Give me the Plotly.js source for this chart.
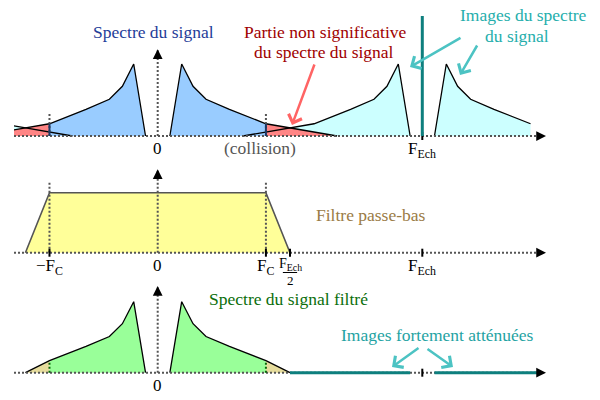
<!DOCTYPE html>
<html><head><meta charset="utf-8">
<script src="https://cdn.plot.ly/plotly-3.0.1.min.js"></script>
<style>body{margin:0;background:#fff}#chart{width:600px;height:400px}</style>
</head><body><div id="chart"></div>
<script>
// ---- DATA (frequencies in units of F_Ech) ----
const FECH = 1;
const FC = 0.409;
const FHALF = 0.5;
// one-sided spectrum of the signal (positive frequencies), amplitude relative to peak
const specF = [0.046, 0.0907, 0.1335, 0.1826, 0.271, 0.409, 0.678];
const specA = [0, 1, 0.69, 0.51, 0.37, 0.17, 0];
// low-pass filter response
const filtF = [-0.5, -0.409, 0.409, 0.5];
const filtA = [0, 1, 1, 0];
// filtered spectrum between Fc and Fech/2
const tailF = [0.409, 0.5];
const tailA = [0.17, 0];
// strongly attenuated images (near zero amplitude)
const atten1F = [0.5, 0.954];
const atten2F = [1.046, 1.44];
const attenA = [0, 0];
// tick labels
const topTickF = [0, 1];
const topTickLbl = ['0', 'F<sub>Ech</sub>'];
const midTickF = [-0.409, 0, 0.409, 1];
const midTickLbl = ['\u2212F<sub>C</sub>', '0', 'F<sub>C</sub>', 'F<sub>Ech</sub>'];
const botTickF = [0];
const botTickLbl = ['0'];

// ---- helpers ----
const iFc = specF.indexOf(FC);
const inF = specF.slice(0, iFc + 1), inA = specA.slice(0, iFc + 1);
const outF = specF.slice(iFc), outA = specA.slice(iFc);
const neg = a => a.map(v => -v);
const shift = (a, s, sign) => a.map(v => s + sign * v);

const C = {
  blue: '#99ccff', cyan: '#ccffff', pink: '#ff8585', yellow: '#ffff99',
  green: '#99ff99', tan: '#e6dc9c', dot: '#555555', teal: '#0e7f7e'
};
const traces = [];
function fill(x, y, color, yaxis) {
  traces.push({x, y, yaxis, type: 'scatter', mode: 'lines', fill: 'toself',
    fillcolor: color, line: {width: 0}, hoverinfo: 'skip'});
}
function outline(x, y, yaxis, color, w) {
  traces.push({x, y, yaxis, type: 'scatter', mode: 'lines',
    line: {color: color || '#000', width: w || 1.3}, hoverinfo: 'skip'});
}

// ---- TOP PANEL: spectrum with images ----
fill(shift(specF, FECH, -1), specA, C.cyan, 'y');
fill([...shift(inF, FECH, 1), FECH + FC], [...inA, 0], C.cyan, 'y');
fill(shift(specF, -FECH, 1), specA, C.cyan, 'y');
fill([...shift(inF, -FECH, -1), -FECH - FC], [...inA, 0], C.cyan, 'y');
fill([...inF, FC], [...inA, 0], C.blue, 'y');
fill([...neg(inF), -FC], [...inA, 0], C.blue, 'y');
fill([FC, ...outF], [0, ...outA], C.pink, 'y');
fill([-FC, ...neg(outF)], [0, ...outA], C.pink, 'y');
outline(specF, specA, 'y');
outline(neg(specF), specA, 'y');
outline(shift(specF, FECH, -1), specA, 'y');
outline(shift(inF, FECH, 1), inA, 'y');
outline(shift(specF, -FECH, 1), specA, 'y');
outline(shift(inF, -FECH, -1), inA, 'y');

// ---- MIDDLE PANEL: low-pass filter ----
traces.push({x: filtF, y: filtA, yaxis: 'y2', type: 'scatter', mode: 'lines',
  fill: 'toself', fillcolor: C.yellow, line: {color: '#555', width: 1.6}, hoverinfo: 'skip'});

// ---- BOTTOM PANEL: filtered spectrum ----
fill([...inF, FC], [...inA, 0], C.green, 'y3');
fill([...neg(inF), -FC], [...inA, 0], C.green, 'y3');
fill([FC, ...tailF], [0, ...tailA], C.tan, 'y3');
fill([-FC, ...neg(tailF)], [0, ...tailA], C.tan, 'y3');
outline([...inF, ...tailF.slice(1)], [...inA, ...tailA.slice(1)], 'y3');
outline([...neg(inF), ...neg(tailF.slice(1))], [...inA, ...tailA.slice(1)], 'y3');

// ---- decorations (axes) ----
const X0 = -0.5431, XEND = 1.455, XTIP = 1.4675;
const shapes = [];
function seg(x0, y0, x1, y1, yref, color, w, dash) {
  shapes.push({type: 'line', xref: 'x', yref, x0, y0, x1, y1, layer: 'above',
    line: {color, width: w, dash: dash || 'solid'}});
}
function tick(x, yref) {
  shapes.push({type: 'line', xref: 'x', yref, x0: x, x1: x, ysizemode: 'pixel', yanchor: 0,
    y0: -4, y1: 4, layer: 'above', line: {color: '#000', width: 2}});
}
const DOT = '2px,2px';
const FRAC_Y = -0.33;
seg(X0, 0, XEND, 0, 'y', C.dot, 2, DOT);
seg(0, 0, 0, 1.19, 'y', C.dot, 2, DOT);
[-FC, FC].forEach(f => { seg(f, 0, f, 0.324, 'y', C.dot, 2, DOT); seg(f, 0, f, specA[iFc], 'y', '#1d3a66', 2); });
tick(FECH, 'y');
seg(FECH, 0, FECH, 1.667, 'y', C.teal, 3);
seg(X0, 0, XEND, 0, 'y2', C.dot, 2, DOT);
seg(0, 0, 0, 1.37, 'y2', C.dot, 2, DOT);
[-FC, FC].forEach(f => seg(f, 0, f, 1.19, 'y2', C.dot, 2, DOT));
[-FC, FC, FHALF, FECH].forEach(f => tick(f, 'y2'));
seg(FHALF - 0.027, FRAC_Y, FHALF + 0.027, FRAC_Y, 'y2', '#000', 1);
seg(X0, 0, XEND, 0, 'y3', C.dot, 2, DOT);
seg(0, 0, 0, 1.2, 'y3', C.dot, 2, DOT);
[-FC, FC].forEach(f => seg(f, 0, f, specA[iFc], 'y3', '#0a6a0a', 2, DOT));
tick(FECH, 'y3');
seg(atten1F[0], attenA[0], atten1F[1], attenA[1], 'y3', C.teal, 3);
seg(atten2F[0], attenA[0], atten2F[1], attenA[1], 'y3', C.teal, 3);

// ---- annotations ----
const FONT = '"Liberation Serif", "DejaVu Serif", serif';
const ann = [];
const P = (px, py) => ({xref: 'paper', yref: 'paper', x: (px - 14) / 586, y: 1 - py / 400});
function text(px, py, t, color, size) {
  ann.push(Object.assign(P(px, py), {text: t, showarrow: false, xanchor: 'center', yanchor: 'middle',
    font: {family: FONT, size: size || 17.5, color}}));
}
function arrow(hx, hy, tx, ty, color) {
  ann.push(Object.assign(P(hx, hy), {text: '', showarrow: true, ax: tx - hx, ay: ty - hy,
    arrowhead: 4, arrowsize: 1.1, arrowwidth: 2.5, arrowcolor: color, standoff: 0}));
}
function axisArrow(x, y, yref, ax, ay) {
  ann.push({xref: 'x', yref, x, y, text: '', showarrow: true, ax, ay, arrowhead: 2,
    arrowsize: 1.3, arrowwidth: 1.5, arrowcolor: '#000', standoff: 0});
}
function tickLabel(x, yref, t, yshift, size) {
  ann.push({xref: 'x', yref, x, y: 0, text: t, showarrow: false, xanchor: 'center', yanchor: 'top',
    yshift: yshift, font: {family: FONT, size: size || 17, color: '#000'}});
}
axisArrow(XTIP, 0, 'y', -10, 0);
axisArrow(XTIP, 0, 'y2', -10, 0);
axisArrow(XTIP, 0, 'y3', -10, 0);
axisArrow(0, 1.204, 'y', 0, 10);
axisArrow(0, 1.39, 'y2', 0, 10);
axisArrow(0, 1.22, 'y3', 0, 10);

topTickF.forEach((f, i) => tickLabel(f, 'y', topTickLbl[i], -1));
midTickF.forEach((f, i) => tickLabel(f, 'y2', midTickLbl[i], -1));
botTickF.forEach((f, i) => tickLabel(f, 'y3', botTickLbl[i], -1));
ann.push({xref: 'x', yref: 'y2', x: FHALF, y: FRAC_Y, text: 'F<sub>Ech</sub>', showarrow: false,
  xanchor: 'center', yanchor: 'bottom', yshift: -2, font: {family: FONT, size: 14, color: '#000'}});
ann.push({xref: 'x', yref: 'y2', x: FHALF, y: FRAC_Y, text: '2', showarrow: false,
  xanchor: 'center', yanchor: 'top', yshift: 2, font: {family: FONT, size: 13, color: '#000'}});

text(153, 32, 'Spectre du signal', '#1f3d99');
text(325, 32, 'Partie non significative', '#a00000');
text(324, 52, 'du spectre du signal', '#a00000');
text(523, 15, 'Images du spectre', '#25aeac');
text(517, 36, 'du signal', '#25aeac');
text(260, 148, '(collision)', '#555555');
text(371, 215, 'Filtre passe-bas', '#9a7b45');
text(288, 299, 'Spectre du signal filtr\u00e9', '#0b6e0b');
text(437, 335, 'Images fortement att\u00e9nu\u00e9es', '#1fa3a3');

arrow(292, 125, 315, 63, '#ff6464');
arrow(410, 67, 462, 37, '#4cc3c3');
arrow(460, 75, 478, 44, '#4cc3c3');
arrow(392, 367, 420, 347, '#4cc3c3');
arrow(453, 367, 426, 348, '#4cc3c3');

const yax = (range) => ({range, visible: false, fixedrange: true, showgrid: false, zeroline: false});
const layout = {
  width: 600, height: 400, margin: {l: 14, r: 0, t: 0, b: 0},
  paper_bgcolor: '#fff', plot_bgcolor: 'rgba(0,0,0,0)', showlegend: false, hovermode: false,
  font: {family: FONT},
  xaxis: {range: [X0, 1.6716], visible: false, fixedrange: true, showgrid: false, zeroline: false},
  yaxis: yax([-3.667, 1.889]),
  yaxis2: Object.assign(yax([-2.455, 4.212]), {overlaying: 'y'}),
  yaxis3: Object.assign(yax([-0.3845, 5.249]), {overlaying: 'y'}),
  shapes, annotations: ann
};
Plotly.newPlot('chart', traces, layout, {staticPlot: true, displayModeBar: false});
</script>
</body></html>
